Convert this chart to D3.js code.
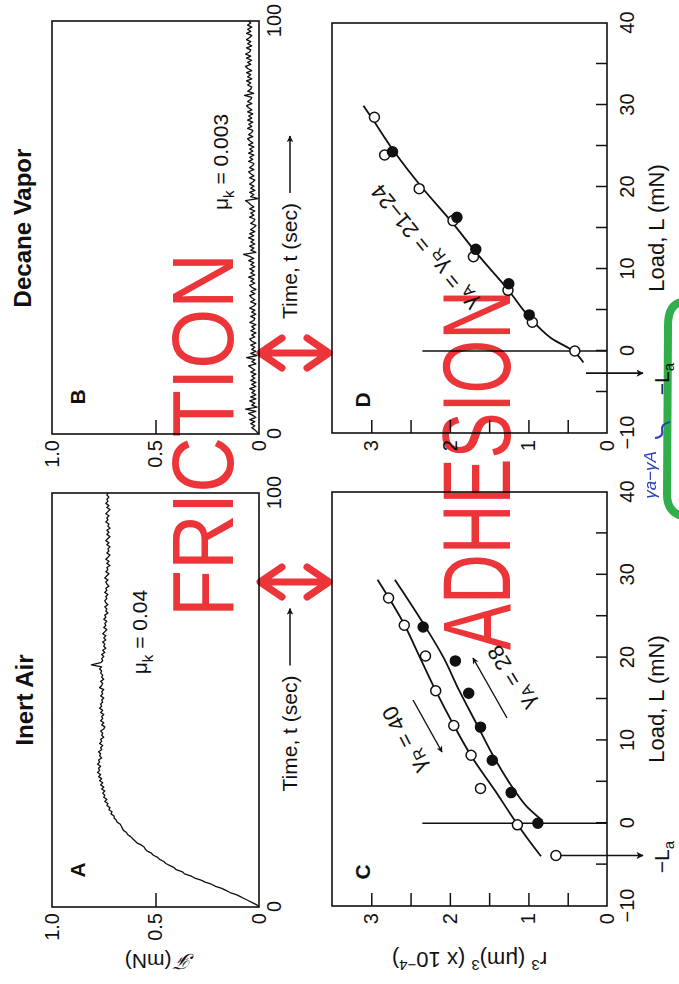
<!DOCTYPE html>
<html>
<head>
<meta charset="utf-8">
<script src="https://cdn.jsdelivr.net/npm/d3@7"></script>
<style>
  html, body { margin: 0; padding: 0; background: #fff; }
  svg { display: block; }
  text { font-family: "Liberation Sans", Arial, Helvetica, sans-serif; }
</style>
</head>
<body>
<svg id="fig" width="679" height="984"></svg>
<script>
// ---------- data ----------
// friction force f (mN), sampled every 0.5 s from 0 to 100 s
const frictionAir = [
  0, 0.01, 0.03, 0.05, 0.07, 0.09, 0.11, 0.14, 0.16, 0.18,
  0.21, 0.23, 0.26, 0.28, 0.31, 0.33, 0.36, 0.37, 0.40, 0.41,
  0.43, 0.45, 0.46, 0.48, 0.49, 0.51, 0.52, 0.54, 0.55, 0.555,
  0.57, 0.59, 0.60, 0.61, 0.62, 0.635, 0.64, 0.655, 0.66, 0.665,
  0.67, 0.685, 0.69, 0.70, 0.70, 0.715, 0.71, 0.725, 0.72, 0.735,
  0.73, 0.745, 0.735, 0.75, 0.745, 0.755, 0.745, 0.76, 0.75, 0.765,
  0.755,
  0.77, 0.76, 0.775, 0.765, 0.78, 0.77, 0.775, 0.765, 0.78, 0.77,
  0.775, 0.76, 0.77, 0.765, 0.775, 0.76, 0.765, 0.755, 0.77, 0.76,
  0.765, 0.75, 0.76, 0.755, 0.765, 0.75, 0.745, 0.76, 0.75, 0.765,
  0.755, 0.76, 0.75, 0.765, 0.755, 0.77, 0.76, 0.765, 0.755, 0.76,
  0.75, 0.765, 0.755, 0.76, 0.75, 0.77, 0.76, 0.755, 0.765, 0.75,
  0.76, 0.755, 0.765, 0.76, 0.77, 0.76, 0.81, 0.765, 0.755, 0.76,
  0.75, 0.76, 0.745, 0.755, 0.74, 0.75, 0.745, 0.755, 0.74, 0.75,
  0.74, 0.755, 0.745, 0.735, 0.75, 0.74, 0.745, 0.735, 0.75, 0.74,
  0.745, 0.73, 0.74, 0.735, 0.745, 0.73, 0.74, 0.745, 0.735, 0.74,
  0.73, 0.745, 0.735, 0.74, 0.725, 0.735, 0.74, 0.73, 0.745, 0.735,
  0.725, 0.74, 0.73, 0.735, 0.72, 0.735, 0.725, 0.74, 0.73, 0.72,
  0.735, 0.725, 0.73, 0.72, 0.735, 0.725, 0.74, 0.73, 0.72, 0.735,
  0.725, 0.735, 0.72, 0.73, 0.725, 0.74, 0.73, 0.735, 0.725, 0.74,
  0.73, 0.72, 0.735, 0.725, 0.74, 0.73, 0.735, 0.725, 0.735, 0.73
];
const frictionDecane = [
  0, 0.01, 0.02, 0.035, 0.02, 0.04, 0.02, 0.045, 0.015, 0.03,
  0.05, 0.015, 0.065, 0.01, 0.035, 0.02, 0.045, 0.015, 0.04, 0.015,
  0.035, 0.02, 0.045, 0.015, 0.035, 0.015, 0.04, 0.02, 0.035, 0.015,
  0.04, 0.02, 0.035, 0.05, 0.015, 0.035, 0.02, 0.06, 0.01, 0.04,
  0.015, 0.035, 0.02, 0.04, 0.015, 0.035, 0.045, 0.02, 0.035, 0.015,
  0.04, 0.02, 0.035, 0.015, 0.045, 0.025, 0.02, 0.04, 0.015, 0.035,
  0.02, 0.045, 0.025, 0.015, 0.04, 0.02, 0.035, 0.045, 0.02, 0.04,
  0.015, 0.035, 0.045, 0.02, 0.04, 0.025, 0.05, 0.02, 0.04, 0.025,
  0.045, 0.02, 0.04, 0.025, 0.05, 0.025, 0.045, 0.075, 0.015, 0.04,
  0.025, 0.045, 0.02, 0.04, 0.025, 0.05, 0.025, 0.045, 0.02, 0.04,
  0.025, 0.015, 0.04, 0.025, 0.02, 0.045, 0.025, 0.04, 0.02, 0.045,
  0.025, 0.04, 0.05, 0.065, 0.005, 0.04, 0.025, 0.045, 0.02, 0.04,
  0.025, 0.045, 0.03, 0.02, 0.045, 0.025, 0.04, 0.05, 0.025, 0.045,
  0.03, 0.025, 0.05, 0.03, 0.045, 0.025, 0.05, 0.03, 0.045, 0.025,
  0.05, 0.03, 0.045, 0.055, 0.03, 0.05, 0.035, 0.03, 0.055, 0.035,
  0.05, 0.03, 0.055, 0.035, 0.05, 0.03, 0.055, 0.035, 0.05, 0.06,
  0.035, 0.055, 0.04, 0.035, 0.07, 0.025, 0.055, 0.04, 0.035, 0.055,
  0.04, 0.06, 0.035, 0.055, 0.04, 0.06, 0.035, 0.055, 0.065, 0.04,
  0.055, 0.035, 0.06, 0.04, 0.065, 0.045, 0.04, 0.06, 0.035, 0.055,
  0.04, 0.06, 0.045, 0.035, 0.06, 0.04, 0.055, 0.035, 0.055, 0.04,
  0.05
];
const timeDomain = [0, 100];
const timeTicks = [0, 100];
const forceTicks = [0, 0.5, 1.0];
const forceTickLabels = ["0", "0.5", "1.0"];
const forceInnerTicks = [0.5];

// contact radius cubed r^3 (x 10^-4 um^3) against load L (mN), inert air
const airUnloadL = [-3.9, -0.2, 4.2, 8.2, 11.8, 16.0, 20.2, 23.9, 27.2];
const airUnloadR3 = [0.65, 1.14, 1.61, 1.73, 1.95, 2.18, 2.31, 2.58, 2.78];
const airLoadL = [0, 3.7, 7.6, 11.6, 15.7, 19.6, 23.7];
const airLoadR3 = [0.88, 1.22, 1.46, 1.61, 1.76, 1.93, 2.34];
// fitted curves: receding (gamma_R = 40) and advancing (gamma_A = 28)
const airRecedeFitL = [-4.0, -2, 0, 4, 8, 12, 16, 20, 24, 29.4];
const airRecedeFitR3 = [0.84, 1.0, 1.15, 1.43, 1.72, 1.96, 2.18, 2.38, 2.58, 2.92];
const airAdvanceFitL = [0.3, 2, 4, 8, 12, 16, 20, 24, 29.4];
const airAdvanceFitR3 = [0.82, 1.02, 1.18, 1.44, 1.66, 1.88, 2.08, 2.33, 2.70];
const airPullOffL = -3.9;

// decane vapor
const decUnloadL = [0, 3.5, 7.4, 11.5, 15.9, 19.8, 23.9, 28.5];
const decUnloadR3 = [0.41, 0.95, 1.26, 1.70, 1.96, 2.39, 2.83, 2.96];
const decLoadL = [4.4, 8.2, 12.4, 16.3, 24.3];
const decLoadR3 = [0.99, 1.25, 1.67, 1.91, 2.73];
const decFitL = [-1.4, 0, 1.5, 3.5, 7.6, 11.6, 15.9, 20, 24.2, 28.5, 29.9];
const decFitR3 = [0.30, 0.43, 0.70, 0.93, 1.27, 1.63, 1.99, 2.36, 2.70, 3.0, 3.1];
const decPullOffL = -2.7;

const loadDomain = [-10, 40];
const loadTicks = [-10, 0, 10, 20, 30, 40];
const loadInnerTicks = [-5, 0, 5, 10, 15, 20, 25, 30, 35];
const r3Domain = [0, 3.5];
const r3Ticks = [0, 1, 2, 3];
const r3InnerTicks = [0.5, 1, 1.5, 2, 2.5, 3];

// ---------- layout ----------
const W = 679, H = 984;
const svg = d3.select("#fig");
// the figure is composed landscape (u across, v down) and turned a quarter turn counter-clockwise
const fig = svg.append("g").attr("transform", `translate(0,${H}) rotate(-90)`);

const INK = "#111";
const xA = d3.scaleLinear().domain(timeDomain).range([77, 491]);
const xB = d3.scaleLinear().domain(timeDomain).range([550, 963]);
const yF = d3.scaleLinear().domain([0, 1]).range([259, 52]);
const xC = d3.scaleLinear().domain(loadDomain).range([78, 492]);
const xD = d3.scaleLinear().domain(loadDomain).range([551, 961]);
const yR = d3.scaleLinear().domain(r3Domain).range([607, 332]);

const defs = svg.append("defs");
defs.append("marker").attr("id", "head").attr("viewBox", "0 0 10 10")
  .attr("refX", 9).attr("refY", 5).attr("markerWidth", 5.5).attr("markerHeight", 4.5)
  .attr("markerUnits", "strokeWidth").attr("orient", "auto")
  .append("path").attr("d", "M0,0 L10,5 L0,10 L2.5,5 Z").attr("fill", INK);

function frame(x, y) {
  fig.append("rect")
    .attr("x", x.range()[0]).attr("y", y.range()[1])
    .attr("width", x.range()[1] - x.range()[0])
    .attr("height", y.range()[0] - y.range()[1])
    .attr("fill", "none").attr("stroke", INK).attr("stroke-width", 1.6);
}

function styleAxis(g, size) {
  g.select(".domain").remove();
  g.selectAll("line").attr("stroke", INK).attr("stroke-width", 1.5);
  g.selectAll("text").attr("font-size", size).attr("font-family", null).attr("fill", INK);
}

function sub(textSel, parts, size, drop = 0.3) {
  let down = false;
  parts.forEach(([s, isSub]) => {
    const ts = textSel.append("tspan").text(s);
    if (isSub) {
      ts.attr("font-size", size * 0.72);
      if (!down) { ts.attr("dy", size * drop); down = true; }
    } else if (down) {
      ts.attr("dy", -size * drop); down = false;
    }
  });
  return textSel;
}

// ---------- friction panels ----------
function frictionPanel(x, values, letter, mu, muAt) {
  frame(x, yF);
  const step = (timeDomain[1] - timeDomain[0]) / (values.length - 1);
  fig.append("path").datum(values)
    .attr("d", d3.line().x((d, i) => x(i * step)).y(d => yF(d)))
    .attr("fill", "none").attr("stroke", INK).attr("stroke-width", 1.3)
    .attr("stroke-linejoin", "round");

  fig.append("g").attr("transform", `translate(${x.range()[0]},0)`)
    .call(d3.axisLeft(yF).tickValues(forceInnerTicks).tickSize(-14).tickFormat(""))
    .call(g => styleAxis(g, 20));
  fig.append("g").attr("transform", `translate(${x.range()[0]},0)`)
    .call(d3.axisLeft(yF).tickValues(forceTicks).tickSize(0).tickPadding(6)
      .tickFormat((d, i) => forceTickLabels[i]))
    .call(g => styleAxis(g, 20));
  fig.append("g").attr("transform", `translate(0,${yF.range()[0]})`)
    .call(d3.axisBottom(x).tickValues(timeTicks).tickSize(0).tickPadding(8).tickFormat(d3.format("d")))
    .call(g => styleAxis(g, 20));

  fig.append("text").attr("x", x.range()[0] + 37).attr("y", 85).attr("fill", INK)
    .attr("text-anchor", "middle").attr("font-size", 21).attr("font-weight", "bold").text(letter);

  sub(fig.append("text").attr("x", muAt[0]).attr("y", muAt[1]).attr("fill", INK)
    .attr("text-anchor", "middle").attr("font-size", 21),
    [["\u03bc"], ["k", true], [" = " + mu]], 21);

  // time axis title with arrow
  const mid = (x.range()[0] + x.range()[1]) / 2;
  const t = fig.append("text").attr("y", 297).attr("font-size", 21).attr("fill", INK).text("Time, t (sec)");
  const len = t.node().getComputedTextLength();
  const start = mid - (len + 67) / 2;
  t.attr("x", start);
  fig.append("line").attr("x1", start + len + 10).attr("x2", start + len + 67)
    .attr("y1", 290).attr("y2", 290).attr("stroke", INK).attr("stroke-width", 1.5)
    .attr("marker-end", "url(#head)");
}
frictionPanel(xA, frictionAir, "A", "0.04", [352, 147]);
frictionPanel(xB, frictionDecane, "B", "0.003", [822, 228]);

// force axis title
fig.append("text").attr("transform", `translate(30,${(yF.range()[0] + yF.range()[1]) / 2 + 4}) rotate(-90)`)
  .attr("text-anchor", "middle").attr("font-size", 21).attr("fill", INK)
  .call(t => { t.append("tspan").attr("font-family", "DejaVu Serif, serif").attr("font-style", "italic").text("\u2131");
               t.append("tspan").text(" (mN)"); });

// titles
fig.append("text").attr("x", 284).attr("y", 33).attr("text-anchor", "middle").attr("fill", INK)
  .attr("font-size", 24).attr("font-weight", "bold").text("Inert Air");
fig.append("text").attr("x", 756).attr("y", 31).attr("text-anchor", "middle").attr("fill", INK)
  .attr("font-size", 24).attr("font-weight", "bold").text("Decane Vapor");

// ---------- adhesion panels ----------
const fitLine = (x) => d3.line().curve(d3.curveMonotoneX).x(d => x(d[0])).y(d => yR(d[1]));

function adhesionAxes(x, letter, letterU) {
  frame(x, yR);
  fig.append("g").attr("transform", `translate(0,${yR.range()[0]})`)
    .call(d3.axisBottom(x).tickValues(loadInnerTicks).tickSize(-11).tickFormat(""))
    .call(g => styleAxis(g, 20));
  fig.append("g").attr("transform", `translate(0,${yR.range()[0]})`)
    .call(d3.axisBottom(x).tickValues(loadTicks).tickSize(0).tickPadding(13).tickFormat(d3.format("d")))
    .call(g => styleAxis(g, 20));
  fig.append("g").attr("transform", `translate(${x.range()[0]},0)`)
    .call(d3.axisLeft(yR).tickValues(r3InnerTicks).tickSize(-13).tickFormat(""))
    .call(g => styleAxis(g, 20));
  fig.append("g").attr("transform", `translate(${x.range()[0]},0)`)
    .call(d3.axisLeft(yR).tickValues(r3Ticks).tickSize(0).tickPadding(7).tickFormat(d3.format("d")))
    .call(g => styleAxis(g, 20));
  // zero-load line
  fig.append("line").attr("x1", x(0)).attr("x2", x(0))
    .attr("y1", yR(0)).attr("y2", yR(2.35)).attr("stroke", INK).attr("stroke-width", 1.5);
  fig.append("text").attr("x", letterU).attr("y", 370).attr("text-anchor", "middle").attr("fill", INK)
    .attr("font-size", 21).attr("font-weight", "bold").text(letter);
  fig.append("text").attr("x", (x.range()[0] + x.range()[1]) / 2).attr("y", 664).attr("fill", INK)
    .attr("text-anchor", "middle").attr("font-size", 22).text("Load, L (mN)");
}

function points(x, Ls, R3s, filled) {
  fig.append("g").selectAll("circle").data(Ls.map((l, i) => [l, R3s[i]])).join("circle")
    .attr("cx", d => x(d[0])).attr("cy", d => yR(d[1])).attr("r", 5)
    .attr("fill", filled ? INK : "#fff").attr("stroke", INK).attr("stroke-width", 1.5);
}

function pullOff(x, L, fromV, labelU) {
  fig.append("line").attr("x1", x(L)).attr("x2", x(L))
    .attr("y1", fromV).attr("y2", 643).attr("stroke", INK).attr("stroke-width", 1.6)
    .attr("marker-end", "url(#head)");
  sub(fig.append("text").attr("x", labelU).attr("y", 669).attr("text-anchor", "middle")
    .attr("font-size", 21).attr("fill", INK),
    [["\u2212L"], ["a", true]], 21, 0.22);
}

// panel C
adhesionAxes(xC, "C", 112);
fig.append("path").datum(airRecedeFitL.map((l, i) => [l, airRecedeFitR3[i]]))
  .attr("d", fitLine(xC)).attr("fill", "none").attr("stroke", INK).attr("stroke-width", 1.8);
fig.append("path").datum(airAdvanceFitL.map((l, i) => [l, airAdvanceFitR3[i]]))
  .attr("d", fitLine(xC)).attr("fill", "none").attr("stroke", INK).attr("stroke-width", 1.8);
pullOff(xC, airPullOffL, yR(airUnloadR3[0]) + 5, 127);
points(xC, airUnloadL, airUnloadR3, false);
points(xC, airLoadL, airLoadR3, true);

sub(fig.append("text").attr("transform", "translate(244,404) rotate(-27)").attr("fill", INK)
  .attr("text-anchor", "middle").attr("dominant-baseline", "central").attr("font-size", 22),
  [["\u03b3"], ["R", true], [" = 40"]], 22);
fig.append("line").attr("x1", 284).attr("y1", 413).attr("x2", 232).attr("y2", 442)
  .attr("stroke", INK).attr("stroke-width", 1.4).attr("marker-end", "url(#head)");
sub(fig.append("text").attr("transform", "translate(306,511) rotate(-31)").attr("fill", INK)
  .attr("text-anchor", "middle").attr("dominant-baseline", "central").attr("font-size", 22),
  [["\u03b3"], ["A", true], [" = 28"]], 22);
fig.append("line").attr("x1", 266).attr("y1", 507).attr("x2", 326).attr("y2", 473)
  .attr("stroke", INK).attr("stroke-width", 1.4).attr("marker-end", "url(#head)");

// panel D
adhesionAxes(xD, "D", 584);
fig.append("path").datum(decFitL.map((l, i) => [l, decFitR3[i]]))
  .attr("d", fitLine(xD)).attr("fill", "none").attr("stroke", INK).attr("stroke-width", 1.8);
pullOff(xD, decPullOffL, 586, 605);
points(xD, decUnloadL, decUnloadR3, false);
points(xD, decLoadL, decLoadR3, true);
sub(fig.append("text").attr("transform", "translate(736,424) rotate(-39)").attr("fill", INK)
  .attr("text-anchor", "middle").attr("dominant-baseline", "central").attr("font-size", 22),
  [["\u03b3"], ["A", true], [" = \u03b3"], ["R", true], [" = 21\u201324"]], 22);

// r^3 axis title
fig.append("text").attr("transform", `translate(32,${(yR.range()[0] + yR.range()[1]) / 2}) rotate(-90)`)
  .attr("text-anchor", "middle").attr("font-size", 22).attr("fill", INK)
  .call(t => {
    t.append("tspan").text("r");
    t.append("tspan").attr("dy", -8).attr("font-size", 15).text("3");
    t.append("tspan").attr("dy", 8).text("  (\u03bcm)");
    t.append("tspan").attr("dy", -8).attr("font-size", 15).text("3");
    t.append("tspan").attr("dy", 8).text(" (x 10");
    t.append("tspan").attr("dy", -8).attr("font-size", 15).text("\u22124");
    t.append("tspan").attr("dy", 8).text(")");
  });

// ---------- hand-drawn annotations (page orientation) ----------
const notes = svg.append("g").style("mix-blend-mode", "multiply");
const RED = "#ea2a2e";
const MARKER_FONT = "'Liberation Sans Narrow', 'DejaVu Sans Condensed', 'DejaVu Sans', sans-serif";
notes.append("text").attr("transform", "translate(233,435) rotate(-90)")
  .attr("text-anchor", "middle").attr("font-family", MARKER_FONT).attr("font-stretch", "condensed")
  .attr("font-size", 88).attr("textLength", 364).attr("lengthAdjust", "spacingAndGlyphs")
  .attr("fill", RED).attr("fill-opacity", 0.95).text("FRICTION");
notes.append("text").attr("transform", "translate(510,470) rotate(-90)")
  .attr("text-anchor", "middle").attr("font-family", MARKER_FONT).attr("font-stretch", "condensed")
  .attr("font-size", 97).attr("textLength", 360).attr("lengthAdjust", "spacingAndGlyphs")
  .attr("fill", RED).attr("fill-opacity", 0.95).text("ADHESION");

[582, 353].forEach(y => {
  notes.append("path")
    .attr("d", `M262,${y} L327,${y} M282,${y - 15} L260,${y} L282,${y + 15} M307,${y - 15} L329,${y} L307,${y + 15}`)
    .attr("fill", "none").attr("stroke", RED).attr("stroke-width", 7)
    .attr("stroke-linecap", "round").attr("stroke-linejoin", "round").attr("stroke-opacity", 0.95);
});

notes.append("path").attr("d", "M682,302 Q668,304 668,326 L667,494 Q667,512 682,516")
  .attr("fill", "none").attr("stroke", "#2fae4a").attr("stroke-width", 8).attr("stroke-linecap", "round");
notes.append("path").attr("d", "M655,438 q9,-1 7,-8 q-1,-6 8,-8")
  .attr("fill", "none").attr("stroke", "#2a3fc0").attr("stroke-width", 2);
notes.append("text").attr("transform", "translate(656,475) rotate(-90)")
  .attr("text-anchor", "middle").attr("font-size", 17).attr("font-style", "italic")
  .attr("fill", "#2a3fc0").text("\u03b3a\u2212\u03b3A");
</script>
</body>
</html>
